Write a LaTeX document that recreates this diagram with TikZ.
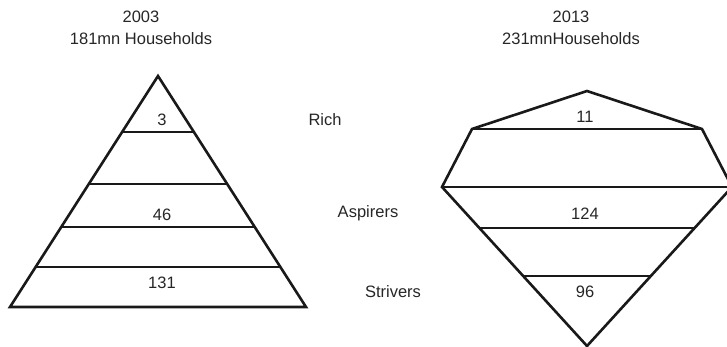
\documentclass[tikz,border=0pt]{standalone}
\usepackage{fontspec}
\setmainfont{Liberation Sans}
\begin{document}
\begin{tikzpicture}[x=1pt,y=-1pt,
  lbl/.style={inner sep=0pt,anchor=base,font=\fontsize{16.5}{19}\selectfont,text=black!85},
  edge/.style={line width=2.6pt,line join=miter,black!90}]
\useasboundingbox (0,0) rectangle (727,347);
\clip (0,0) rectangle (727,347);
% titles
\node[lbl] (t1a) at (141,23) {2003};
\node[lbl] (t1b) at (141,45) {181mn Households};
\node[lbl] (t2a) at (571,23) {2013};
\node[lbl] (t2b) at (571,45) {231mnHouseholds};
% left pyramid
\coordinate (LA) at (158,76);
\coordinate (LL) at (10,307);
\coordinate (LR) at (306,307);
\draw[edge] (LA) -- (LR) -- (LL) -- cycle;
\coordinate (l1a) at (122.1,132); \coordinate (l1b) at (193.9,132);
\coordinate (l2a) at (88.8,184);  \coordinate (l2b) at (227.2,184);
\coordinate (l3a) at (61.3,227);  \coordinate (l3b) at (254.7,227);
\coordinate (l4a) at (35.6,267);  \coordinate (l4b) at (280.4,267);
\draw[edge] (l1a) -- (l1b);
\draw[edge] (l2a) -- (l2b);
\draw[edge] (l3a) -- (l3b);
\draw[edge] (l4a) -- (l4b);
\node[lbl] (v3) at (162,126) {3};
\node[lbl] (v46) at (162,220) {46};
\node[lbl] (v131) at (162,288) {131};
% middle labels
\node[lbl] (rich) at (325,126) {Rich};
\node[lbl] (asp) at (368,218) {Aspirers};
\node[lbl] (str) at (393,297) {Strivers};
% right diamond
\coordinate (RT) at (587,91);
\coordinate (RUL) at (472,129);
\coordinate (RUR) at (702,129);
\coordinate (RL) at (442,187);
\coordinate (RR) at (732,187);
\coordinate (RB) at (587,346);
\draw[edge] (RT) -- (RUR) -- (RR) -- (RB) -- (RL) -- (RUL) -- cycle;
\draw[edge] (RUL) -- (RUR);
\draw[edge] (RL) -- (RR);
\coordinate (r3a) at (479.4,228); \coordinate (r3b) at (694.6,228);
\coordinate (r4a) at (524.4,276); \coordinate (r4b) at (649.6,276);
\draw[edge] (r3a) -- (r3b);
\draw[edge] (r4a) -- (r4b);
\node[lbl] (v11) at (585,123) {11};
\node[lbl] (v124) at (585,219) {124};
\node[lbl] (v96) at (585,297) {96};
\end{tikzpicture}
\end{document}
